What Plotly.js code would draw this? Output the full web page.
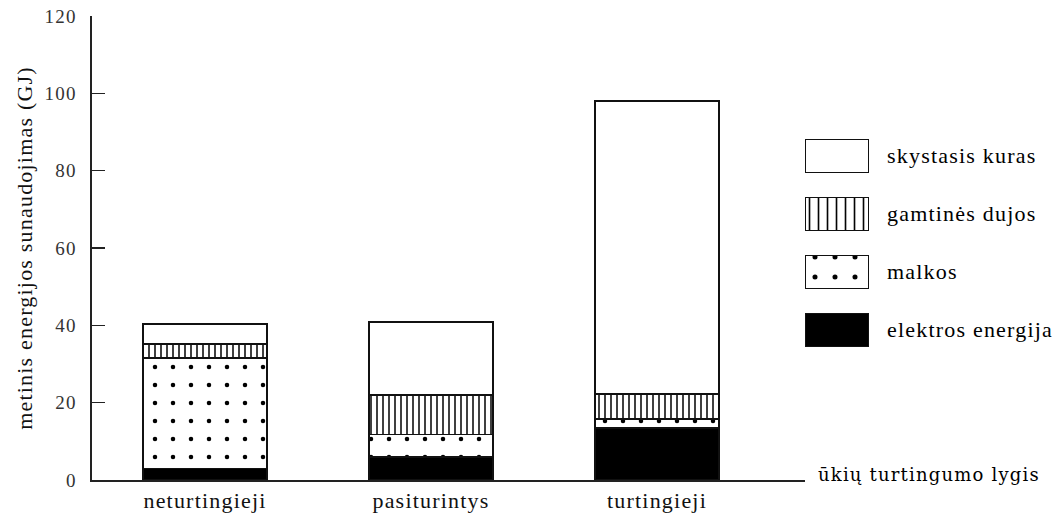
<!DOCTYPE html>
<html>
<head>
<meta charset="utf-8">
<script src="https://cdn.plot.ly/plotly-3.0.1.min.js"></script>
<style>
html,body{margin:0;padding:0;background:#fff;}
svg text{letter-spacing:1.2px;}
</style>
</head>
<body>
<div id="chart" style="width:1061px;height:518px;"></div>
<script>
// ---- data ----
const categories = ["neturtingieji", "pasiturintys", "turtingieji"];
const seriesNames = ["elektros energija", "malkos", "gamtinės dujos", "skystasis kuras"];
const elektrosEnergija = [3.0, 6.0, 13.5];
const malkos = [28.5, 5.8, 2.3];
const gamtinesDujos = [3.6, 10.2, 6.4];
const skystasisKuras = [5.2, 18.8, 75.8];
const yTicks = [0, 20, 40, 60, 80, 100, 120];
const yTitle = "metinis energijos sunaudojimas (GJ)";
const xTitle = "ūkių turtingumo lygis";

// ---- styles ----
const serif = "Liberation Serif";
const styles = [
  {color: "#000000", pattern: {shape: ""}},
  {color: "#ffffff", pattern: {shape: ".", fgcolor: "#000", bgcolor: "#fff", size: 18, solidity: 0.05, fillmode: "replace"}},
  {color: "#ffffff", pattern: {shape: "|", fgcolor: "#000", bgcolor: "#fff", size: 6, solidity: 0.25, fillmode: "replace"}},
  {color: "#ffffff", pattern: {shape: ""}}
];
const legendStyles = JSON.parse(JSON.stringify(styles));
legendStyles[2].pattern.size = 9;
legendStyles[2].pattern.solidity = 0.18;
legendStyles[1].pattern.size = 20;
const values = [elektrosEnergija, malkos, gamtinesDujos, skystasisKuras];

const traces = [];
values.forEach((v, i) => {
  traces.push({
    type: "bar", x: categories, y: v, name: seriesNames[i],
    width: 0.55,
    marker: {color: styles[i].color, pattern: styles[i].pattern, line: {color: "#111", width: 1.6}},
    hoverinfo: "skip", showlegend: false
  });
});
// legend swatches (drawn as bars on a hidden helper axis)
const legendOrder = [0, 1, 2, 3]; // bottom to top
legendOrder.forEach((i, k) => {
  traces.push({
    type: "bar", orientation: "h", x: [1], y: [k], base: [0],
    width: 0.56, xaxis: "x2", yaxis: "y2",
    marker: {color: legendStyles[i].color, pattern: legendStyles[i].pattern, line: {color: "#111", width: 1.4}},
    hoverinfo: "skip", showlegend: false
  });
});

const annotations = legendOrder.map((i, k) => ({
  xref: "x2", yref: "y2", x: 1, y: k, xanchor: "left", yanchor: "middle",
  xshift: 16, text: seriesNames[i], showarrow: false,
  font: {family: serif, size: 22, color: "#000"}
}));
annotations.push({
  xref: "paper", yref: "paper", x: 0.755, y: 0.012, xanchor: "left", yanchor: "middle",
  text: xTitle, showarrow: false,
  font: {family: "DejaVu Serif", size: 18, color: "#000"}
});

const layout = {
  width: 1061, height: 518,
  margin: {l: 92, r: 10, t: 16, b: 38},
  paper_bgcolor: "#fff", plot_bgcolor: "rgba(0,0,0,0)",
  barmode: "stack",
  showlegend: false,
  xaxis: {
    domain: [0, 0.7435], range: [-0.5, 2.655],
    showline: true, linecolor: "#222", linewidth: 1.6,
    showgrid: false, zeroline: false, ticks: "",
    tickfont: {family: serif, size: 22, color: "#111"},
    fixedrange: true
  },
  yaxis: {
    range: [0, 120], tickvals: yTicks, ticktext: yTicks.map(String),
    showline: true, linecolor: "#222", linewidth: 1.6,
    ticks: "inside", ticklen: 13, tickwidth: 1.6, tickcolor: "#222",
    ticklabelstandoff: 10,
    showgrid: false, zeroline: false,
    tickfont: {family: serif, size: 19, color: "#333"},
    title: {text: yTitle, font: {family: serif, size: 22, color: "#111"}, standoff: 6},
    fixedrange: true
  },
  xaxis2: {domain: [0.7435, 0.8102], range: [0, 1], visible: false, fixedrange: true, anchor: "y2"},
  yaxis2: {domain: [0.2608, 0.7608], range: [-0.5, 3.5], visible: false, fixedrange: true, anchor: "x2"},
  annotations: annotations
};

Plotly.newPlot("chart", traces, layout, {displayModeBar: false, staticPlot: true});
</script>
</body>
</html>
